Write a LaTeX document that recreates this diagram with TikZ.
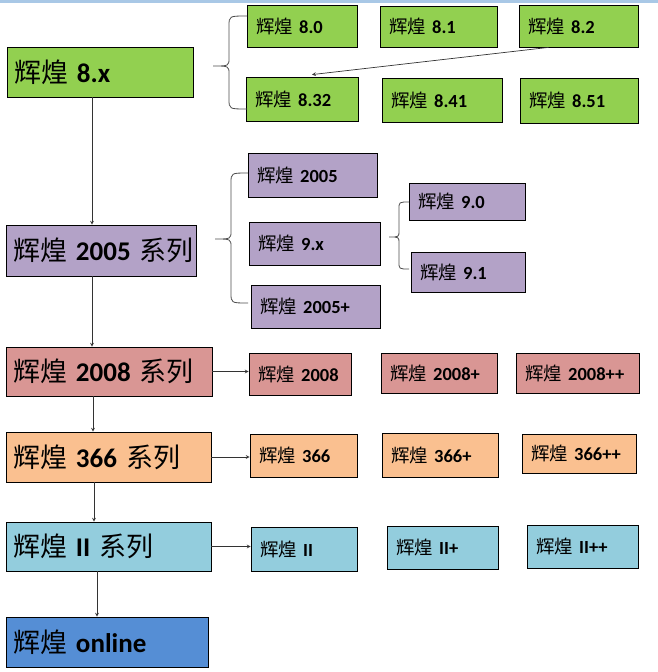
\documentclass[tikz,border=0pt]{standalone}
\usepackage{fontspec}
\setmainfont{Carlito}
\newfontfamily\cjk{Noto Sans CJK SC}
\newcommand\zh[1]{{\cjk\mdseries #1}}
\definecolor{grn}{HTML}{92D050}
\definecolor{pur}{HTML}{B3A2C7}
\definecolor{rose}{HTML}{D99694}
\definecolor{org}{HTML}{FAC090}
\definecolor{cyn}{HTML}{93CDDD}
\definecolor{blu}{HTML}{558ED5}
\definecolor{topc}{HTML}{A9C8E6}
\begin{document}
\begin{tikzpicture}[x=1pt,y=-1pt,
        box/.style={draw=black,line width=0.8pt,align=left,inner ysep=0pt},
        main/.style={box,inner xsep=7pt,font=\fontsize{27}{32}\selectfont},
        sub/.style={box,inner xsep=9pt,font=\fontsize{18.5}{23}\selectfont\bfseries},
        arr/.style={->,>=stealth,draw=gray!40!black,line width=0.7pt},
        brc/.style={draw=gray!60!black,line width=0.8pt}]
    \useasboundingbox (0,0) rectangle (658,672);
    \fill[topc] (0,0) rectangle (658,2.5);

    % 8.x
    \node[main,fill=grn,text width=172pt,minimum height=50pt] (x8) at (100,72) {\mbox{\zh{辉煌} \textbf{8.x}}};
    \node[sub,fill=grn,text width=92pt,minimum height=42pt] (v80) at (302,26) {\mbox{\zh{辉煌} 8.0}};
    \node[sub,fill=grn,text width=99pt,minimum height=41pt] (v81) at (438.5,26.5) {\mbox{\zh{辉煌} 8.1}};
    \node[sub,fill=grn,text width=101pt,minimum height=42pt] (v82) at (578.5,26) {\mbox{\zh{辉煌} 8.2}};
    \node[sub,fill=grn,text width=94pt,minimum height=44pt] (v832) at (302,99) {\mbox{\zh{辉煌} 8.32}};
    \node[sub,fill=grn,text width=102pt,minimum height=44pt] (v841) at (442,100) {\mbox{\zh{辉煌} 8.41}};
    \node[sub,fill=grn,text width=100pt,minimum height=45pt] (v851) at (579,100.5) {\mbox{\zh{辉煌} 8.51}};

    % 2005
    \node[main,fill=pur,text width=176pt,minimum height=51pt] (x2005) at (101,250.5) {\mbox{\zh{辉煌} \textbf{2005} \zh{系列}}};
    \node[sub,fill=pur,text width=111pt,minimum height=44pt] (v2005) at (312.5,175) {\mbox{\zh{辉煌} 2005}};
    \node[sub,fill=pur,text width=113pt,minimum height=43pt] (v9x) at (314.5,243.5) {\mbox{\zh{辉煌} 9.x}};
    \node[sub,fill=pur,text width=111pt,minimum height=43pt] (v2005p) at (315.5,306.5) {\mbox{\zh{辉煌} 2005+}};
    \node[sub,fill=pur,text width=98pt,minimum height=37pt] (v90) at (467,201.5) {\mbox{\zh{辉煌} 9.0}};
    \node[sub,fill=pur,text width=96pt,minimum height=40pt] (v91) at (468,272) {\mbox{\zh{辉煌} 9.1}};

    % 2008
    \node[main,fill=rose,text width=192pt,minimum height=49pt] (x2008) at (109,371.5) {\mbox{\zh{辉煌} \textbf{2008} \zh{系列}}};
    \node[sub,fill=rose,text width=84pt,minimum height=42pt] (v2008) at (300,374) {\mbox{\zh{辉煌} 2008}};
    \node[sub,fill=rose,text width=98pt,minimum height=40pt] (v2008p) at (439,373) {\mbox{\zh{辉煌} 2008+}};
    \node[sub,fill=rose,text width=105pt,minimum height=40pt] (v2008pp) at (577.5,373) {\mbox{\zh{辉煌} 2008++}};

    % 366
    \node[main,fill=org,text width=191pt,minimum height=50pt] (x366) at (108.5,457) {\mbox{\zh{辉煌} \textbf{366} \zh{系列}}};
    \node[sub,fill=org,text width=89pt,minimum height=43pt] (v366) at (303.5,455.5) {\mbox{\zh{辉煌} 366}};
    \node[sub,fill=org,text width=98pt,minimum height=44pt] (v366p) at (440,455) {\mbox{\zh{辉煌} 366+}};
    \node[sub,fill=org,text width=96pt,minimum height=39pt] (v366pp) at (579,453.5) {\mbox{\zh{辉煌} 366++}};

    % II
    \node[main,fill=cyn,text width=191pt,minimum height=49pt] (xII) at (108.5,546.5) {\mbox{\zh{辉煌} \textbf{II} \zh{系列}}};
    \node[sub,fill=cyn,text width=88pt,minimum height=44pt] (vII) at (304,549) {\mbox{\zh{辉煌} II}};
    \node[sub,fill=cyn,text width=93pt,minimum height=43pt] (vIIp) at (442.5,547.5) {\mbox{\zh{辉煌} II+}};
    \node[sub,fill=cyn,text width=93pt,minimum height=43pt] (vIIpp) at (582.5,546.5) {\mbox{\zh{辉煌} II++}};

    \node[main,fill=blu,text width=188pt,minimum height=50pt] (xon) at (107,642) {\mbox{\zh{辉煌} \textbf{online}}};

    % main line
    \draw[arr] ([xshift=-8pt]x8.south) -- ([xshift=-8pt]x8.south |- x2005.north);
    \draw[arr] ([xshift=-9pt]x2005.south) -- ([xshift=-9pt]x2005.south |- x2008.north);
    \draw[arr] ([xshift=-16pt]x2008.south) -- ([xshift=-16pt]x2008.south |- x366.north);
    \draw[arr] ([xshift=-14.5pt]x366.south) -- ([xshift=-14.5pt]x366.south |- xII.north);
    \draw[arr] ([xshift=-11.5pt]xII.south) -- ([xshift=-11.5pt]xII.south |- xon.north);

    \draw[arr] (x2008.east) -- (x2008.east -| v2008.west);
    \draw[arr] (x366.east) -- (x366.east -| v366.west);
    \draw[arr] (xII.east) -- (xII.east -| vII.west);
    \draw[arr] ([xshift=-30pt]v82.south) -- ([xshift=10pt,yshift=2pt]v832.north);

    % braces
    \draw[brc] (247,16) .. controls (229,16) .. (229,26) -- (229,58) .. controls (229,66) .. (213,66)
        .. controls (229,66) .. (229,74) -- (229,99) .. controls (229,109) .. (247,109);
    \draw[brc] (248,173) .. controls (231,173) .. (231,183) -- (231,231) .. controls (231,239) .. (215,239)
        .. controls (231,239) .. (231,247) -- (231,293) .. controls (231,303) .. (248,303);
    \draw[brc] (409,202) .. controls (399,202) .. (399,209) -- (399,231) .. controls (399,237) .. (389,237)
        .. controls (399,237) .. (399,243) -- (399,262) .. controls (399,269) .. (409,269);
\end{tikzpicture}
\end{document}
